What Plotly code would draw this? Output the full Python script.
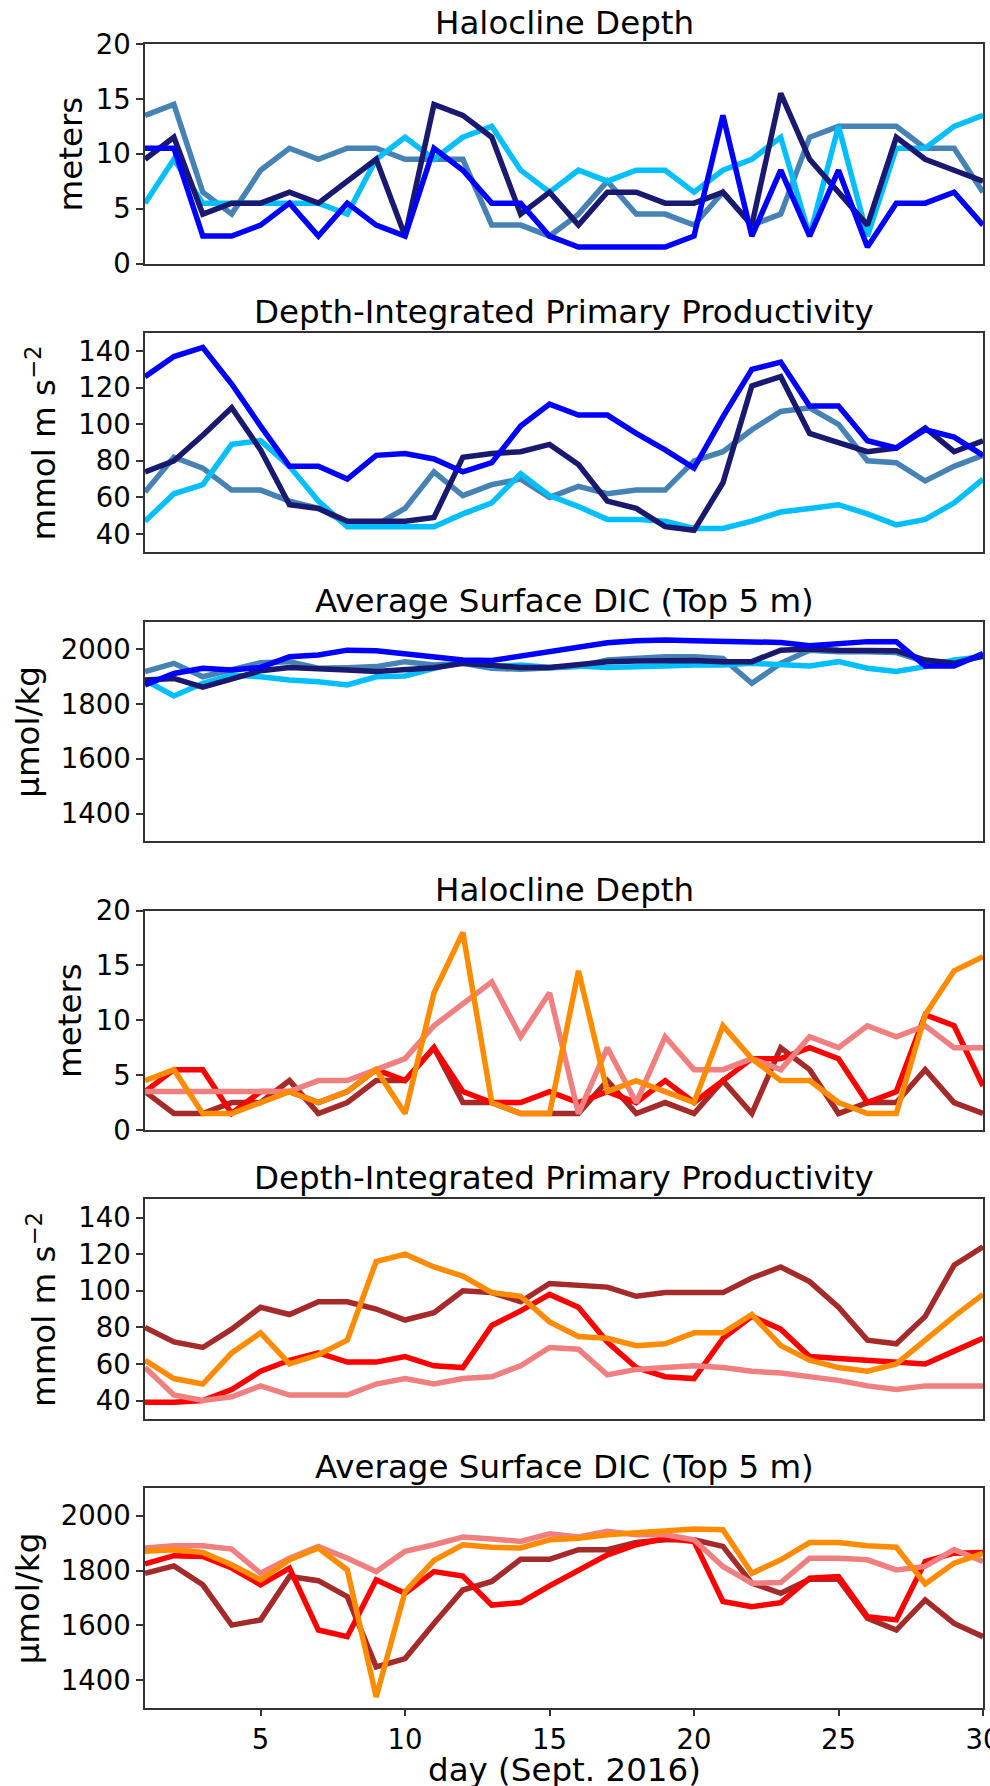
import plotly.graph_objects as go

days = list(range(1, 31))

# ---- Top group (blues) ----
halo_navy = [9.5, 11.5, 4.5, 5.5, 5.5, 6.5, 5.5, 7.5, 9.5, 2.5, 14.5, 13.5, 11.5, 4.5, 6.5, 3.5, 6.5, 6.5, 5.5, 5.5, 6.5, 3.5, 15.5, 9.5, 6.5, 3.5, 11.5, 9.5, 8.5, 7.5]
halo_blue = [10.5, 10.5, 2.5, 2.5, 3.5, 5.5, 2.5, 5.5, 3.5, 2.5, 10.5, 8.5, 5.5, 5.5, 2.5, 1.5, 1.5, 1.5, 1.5, 2.5, 13.5, 2.5, 8.5, 2.5, 8.5, 1.5, 5.5, 5.5, 6.5, 3.5]
halo_sky = [5.5, 9.5, 5.5, 5.5, 5.5, 5.5, 5.5, 4.5, 9.5, 11.5, 9.5, 11.5, 12.5, 8.5, 6.5, 8.5, 7.5, 8.5, 8.5, 6.5, 8.5, 9.5, 11.5, 2.5, 12.5, 2.5, 10.5, 10.5, 12.5, 13.5]
halo_steel = [13.5, 14.5, 6.5, 4.5, 8.5, 10.5, 9.5, 10.5, 10.5, 9.5, 9.5, 9.5, 3.5, 3.5, 2.5, 4.5, 7.5, 4.5, 4.5, 3.5, 6.5, 3.5, 4.5, 11.5, 12.5, 12.5, 12.5, 10.5, 10.5, 6.5]

pp_blue = [126, 137, 142, 122, 99, 77, 77, 70, 83, 84, 81, 74, 79, 99, 111, 105, 105, 95, 86, 76, 104, 130, 134, 110, 110, 91, 87, 97, 93, 83]
pp_navy = [74, 80, 94, 109, 86, 56, 54, 47, 47, 47, 49, 82, 84, 85, 89, 78, 58, 54, 44, 42, 68, 121, 126, 95, 90, 85, 87, 98, 85, 91]
pp_steel = [63, 82, 76, 64, 64, 58, 54, 46, 45, 54, 74, 61, 67, 70, 60, 66, 62, 64, 64, 80, 85, 97, 107, 109, 100, 80, 79, 69, 77, 83]
pp_sky = [47, 62, 67, 89, 91, 77, 58, 44, 44, 44, 44, 51, 57, 73, 61, 55, 48, 48, 47, 43, 43, 47, 52, 54, 56, 51, 45, 48, 57, 70]

dic_blue = [1869, 1911, 1930, 1924, 1933, 1972, 1978, 1996, 1994, 1982, 1972, 1960, 1958, 1975, 1990, 2008, 2023, 2030, 2033, 2030, 2027, 2024, 2024, 2012, 2018, 2027, 2027, 1938, 1938, 1984]
dic_navy = [1887, 1893, 1861, 1890, 1921, 1933, 1930, 1924, 1918, 1924, 1932, 1948, 1942, 1933, 1933, 1942, 1954, 1956, 1958, 1958, 1954, 1954, 1996, 2000, 1996, 1994, 1994, 1960, 1948, 1975]
dic_steel = [1918, 1948, 1899, 1924, 1950, 1954, 1930, 1932, 1936, 1954, 1942, 1948, 1930, 1926, 1933, 1936, 1960, 1966, 1972, 1972, 1966, 1875, 1948, 1996, 1990, 1990, 1987, 1954, 1954, 1975]
dic_sky = [1887, 1829, 1875, 1905, 1899, 1887, 1881, 1869, 1899, 1902, 1930, 1954, 1936, 1942, 1933, 1938, 1933, 1933, 1938, 1942, 1942, 1948, 1942, 1938, 1954, 1930, 1918, 1936, 1960, 1972]

# ---- Bottom group (reds) ----
halo_brown = [3.5, 1.5, 1.5, 2.5, 2.5, 4.5, 1.5, 2.5, 4.5, 4.5, 7.5, 2.5, 2.5, 1.5, 1.5, 1.5, 4.5, 1.5, 2.5, 1.5, 4.5, 1.5, 7.5, 5.5, 1.5, 2.5, 2.5, 5.5, 2.5, 1.5]
halo_red = [3.5, 5.5, 5.5, 1.5, 3.5, 3.5, 2.5, 3.5, 5.5, 4.5, 7.5, 3.5, 2.5, 2.5, 3.5, 2.5, 3.5, 2.5, 4.5, 2.5, 4.5, 6.5, 6.5, 7.5, 6.5, 2.5, 3.5, 10.5, 9.5, 4.0]
halo_coral = [3.5, 3.5, 3.5, 3.5, 3.5, 3.5, 4.5, 4.5, 5.5, 6.5, 9.5, 11.5, 13.5, 8.5, 12.5, 1.5, 7.5, 2.5, 8.5, 5.5, 5.5, 6.5, 5.5, 8.5, 7.5, 9.5, 8.5, 9.5, 7.5, 7.5]
halo_orange = [4.5, 5.5, 1.5, 1.5, 2.5, 3.5, 2.5, 3.5, 5.5, 1.5, 12.5, 18.0, 2.5, 1.5, 1.5, 14.5, 3.5, 4.5, 3.5, 2.5, 9.5, 6.5, 4.5, 4.5, 2.5, 1.5, 1.5, 10.5, 14.5, 15.8]

pp_brown = [80, 72, 69, 79, 91, 87, 94, 94, 90, 84, 88, 100, 99, 94, 104, 103, 102, 97, 99, 99, 99, 107, 113, 105, 91, 73, 71, 86, 114, 124]
pp_red = [39, 39, 40, 46, 56, 62, 66, 61, 61, 64, 59, 58, 81, 89, 98, 91, 72, 58, 53, 52, 74, 86, 79, 64, 63, 62, 61, 60, 67, 74]
pp_coral = [58, 43, 40, 42, 48, 43, 43, 43, 49, 52, 49, 52, 53, 59, 69, 68, 54, 57, 58, 59, 58, 56, 55, 53, 51, 48, 46, 48, 48, 48]
pp_orange = [62, 52, 49, 66, 77, 60, 65, 73, 116, 120, 113, 108, 99, 97, 83, 75, 74, 70, 71, 77, 77, 87, 70, 62, 58, 56, 60, 73, 86, 98]

dic_brown = [1790, 1817, 1748, 1601, 1620, 1778, 1763, 1705, 1449, 1479, 1607, 1729, 1760, 1841, 1841, 1876, 1876, 1902, 1912, 1912, 1888, 1754, 1717, 1768, 1768, 1626, 1583, 1693, 1607, 1559]
dic_red = [1824, 1854, 1851, 1809, 1748, 1809, 1583, 1559, 1766, 1717, 1796, 1780, 1674, 1683, 1744, 1802, 1857, 1894, 1918, 1906, 1687, 1668, 1683, 1772, 1778, 1632, 1620, 1833, 1863, 1866]
dic_coral = [1882, 1890, 1890, 1878, 1790, 1845, 1888, 1845, 1796, 1870, 1894, 1922, 1915, 1906, 1934, 1922, 1943, 1930, 1930, 1912, 1815, 1754, 1756, 1845, 1845, 1839, 1802, 1815, 1876, 1833]
dic_orange = [1870, 1876, 1866, 1821, 1766, 1839, 1882, 1802, 1339, 1723, 1837, 1894, 1885, 1882, 1912, 1918, 1930, 1937, 1943, 1951, 1949, 1790, 1839, 1902, 1902, 1890, 1885, 1751, 1827, 1863]

titles = ["Halocline Depth", "Depth-Integrated Primary Productivity", "Average Surface DIC (Top 5 m)"] * 2
ylabels = ["meters", "mmol m s<sup>\u22122</sup>", "\u00b5mol/kg"] * 2
yranges = [[0, 20], [30, 150], [1300, 2100]] * 2
yticks = [[0, 5, 10, 15, 20], [40, 60, 80, 100, 120, 140], [1400, 1600, 1800, 2000]] * 2
x_tickvals = [5, 10, 15, 20, 25, 30]

blue_cols = ["steelblue", "deepskyblue", "midnightblue", "blue"]
red_cols = ["brown", "red", "lightcoral", "darkorange"]
panels = [
    [halo_steel, halo_sky, halo_navy, halo_blue],
    [pp_steel, pp_sky, pp_navy, pp_blue],
    [dic_steel, dic_sky, dic_navy, dic_blue],
    [halo_brown, halo_red, halo_coral, halo_orange],
    [pp_brown, pp_red, pp_coral, pp_orange],
    [dic_brown, dic_red, dic_coral, dic_orange],
]

W, H = 990, 1786
L, R = 145, 983
tops = [44, 332.8, 621.6, 910.5, 1199.3, 1488.2]
ph = 219.5
FONT = "DejaVu Sans"

fig = go.Figure()
annotations = []
label_right = [91.7, 65.4, 49.4] * 2

for i in range(6):
    n = "" if i == 0 else str(i + 1)
    cols = blue_cols if i < 3 else red_cols
    for series, c in zip(panels[i], cols):
        fig.add_trace(go.Scatter(x=days, y=series, mode="lines",
                                 line=dict(color=c, width=5.5),
                                 xaxis="x" + n, yaxis="y" + n,
                                 showlegend=False, hoverinfo="skip"))
    top = tops[i]
    dom = [1 - (top + ph) / H, 1 - top / H]
    last = (i == 5)
    fig.update_layout(**{
        "xaxis" + n: dict(domain=[0, 1], range=[1, 30], anchor="y" + n, automargin=False,
                          showline=True, mirror=True, linecolor="#333333", linewidth=1.5,
                          showgrid=False, zeroline=False,
                          ticks="outside" if last else "", ticklen=7, tickwidth=1.5,
                          tickcolor="#333333", ticklabeloverflow="allow",
                          tickvals=x_tickvals, showticklabels=last,
                          tickfont=dict(family=FONT, size=27.5, color="black")),
        "yaxis" + n: dict(domain=dom, range=yranges[i], anchor="x" + n, automargin=False,
                          showline=True, mirror=True, linecolor="#333333", linewidth=1.5,
                          showgrid=False, zeroline=False,
                          ticks="outside", ticklen=7, tickwidth=1.5, tickcolor="#333333",
                          tickvals=yticks[i],
                          tickfont=dict(family=FONT, size=27.5, color="black")),
    })
    annotations.append(dict(text=titles[i], xref="paper", yref="paper",
                            x=0.5, y=dom[1], xanchor="center", yanchor="bottom",
                            showarrow=False, font=dict(family=FONT, size=32.5, color="black")))
    annotations.append(dict(text=ylabels[i], xref="paper", yref="paper",
                            x=(label_right[i] - L) / (R - L), y=(dom[0] + dom[1]) / 2,
                            xanchor="right", yanchor="middle", textangle=-90,
                            showarrow=False, font=dict(family=FONT, size=32.5, color="black")))

annotations.append(dict(text="day (Sept. 2016)", xref="paper", yref="paper",
                        x=0.5, y=1 - 1749 / H, xanchor="center", yanchor="top",
                        showarrow=False, font=dict(family=FONT, size=32.5, color="black")))

fig.update_layout(width=W, height=H, margin=dict(l=L, r=W - R, t=0, b=0, pad=0, autoexpand=False),
                  paper_bgcolor="white", plot_bgcolor="white",
                  annotations=annotations, showlegend=False)

post = ("document.documentElement.style.overflow='hidden';"
        "document.body.style.margin='0';document.body.style.overflow='hidden';"
        "var gd=document.getElementById('{plot_id}');"
        "gd.style.position='fixed';gd.style.top='0px';gd.style.left='0px';")

fig.write_html("out.html", config={"displayModeBar": False}, post_script=post)
